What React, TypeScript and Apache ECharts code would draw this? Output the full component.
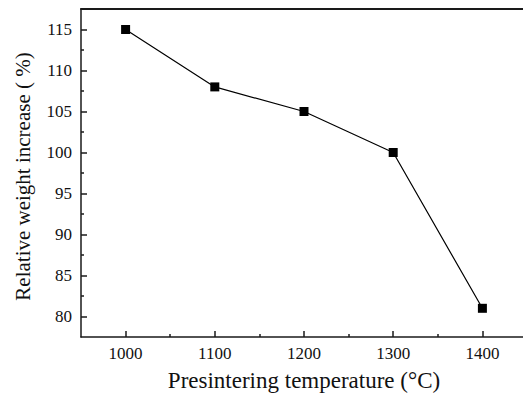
import React, { useEffect, useRef } from "react";
import * as echarts from "echarts";

const temperatures = [1000, 1100, 1200, 1300, 1400];
const weightIncrease = [115, 108, 105, 100, 81];
const xMajorTicks = [1000, 1100, 1200, 1300, 1400];
const xMinorTicks = [1050, 1150, 1250, 1350];
const yMajorTicks = [80, 85, 90, 95, 100, 105, 110, 115];
const yMinorTicks = [82.5, 87.5, 92.5, 97.5, 102.5, 107.5, 112.5];

const FONT = "Liberation Serif";
const AX = "#1a1a1a";

export default function App() {
  const ref = useRef<HTMLDivElement>(null);
  useEffect(() => {
    const chart = echarts.init(ref.current!, null, { renderer: "svg" });
    const xBase = { type: "value", min: 950, max: 1450, interval: 50 };
    const yBase = { type: "value", min: 77.5, max: 117.5, interval: 2.5 };
    chart.setOption({
      animation: false,
      backgroundColor: "#ffffff",
      textStyle: { fontFamily: FONT },
      grid: { left: 81, top: 9, right: -4, bottom: 62, outerBoundsMode: "none", containLabel: false },
      xAxis: [
        {
          ...xBase,
          position: "bottom",
          name: "Presintering temperature (°C)",
          nameLocation: "middle",
          nameGap: 32,
          nameTextStyle: { fontFamily: FONT, fontSize: 23, color: "#111" },
          axisLine: { show: true, lineStyle: { color: AX, width: 1.5 } },
          axisTick: { show: true, inside: true, length: 6, customValues: xMajorTicks, lineStyle: { color: AX, width: 1.5 } },
          axisLabel: {
            fontFamily: FONT,
            fontSize: 17,
            color: "#111",
            margin: 8,
            formatter: (v: number) => (xMajorTicks.includes(v) ? String(v) : ""),
          },
          splitLine: { show: false },
        },
        {
          ...xBase,
          position: "bottom",
          axisLine: { show: false },
          axisTick: { show: true, inside: true, length: 3, customValues: xMinorTicks, lineStyle: { color: AX, width: 1.5 } },
          axisLabel: { show: false },
          splitLine: { show: false },
        },
        {
          ...xBase,
          position: "top",
          axisLine: { show: true, lineStyle: { color: AX, width: 2 } },
          axisTick: { show: false },
          axisLabel: { show: false },
          splitLine: { show: false },
        },
      ],
      yAxis: [
        {
          ...yBase,
          position: "left",
          name: "Relative weight increase ( %)",
          nameLocation: "middle",
          nameGap: 48,
          nameTextStyle: { fontFamily: FONT, fontSize: 21, color: "#111", padding: [0, 7, 0, 0] },
          axisLine: { show: true, lineStyle: { color: AX, width: 1.5 } },
          axisTick: { show: true, inside: true, length: 6, customValues: yMajorTicks, lineStyle: { color: AX, width: 1.5 } },
          axisLabel: {
            fontFamily: FONT,
            fontSize: 17,
            color: "#111",
            margin: 9,
            formatter: (v: number) => (yMajorTicks.includes(v) ? String(v) : ""),
          },
          splitLine: { show: false },
        },
        {
          ...yBase,
          position: "left",
          axisLine: { show: false },
          axisTick: { show: true, inside: true, length: 3, customValues: yMinorTicks, lineStyle: { color: AX, width: 1.5 } },
          axisLabel: { show: false },
          splitLine: { show: false },
        },
      ],
      series: [
        {
          type: "line",
          xAxisIndex: 0,
          yAxisIndex: 0,
          data: temperatures.map((t, i) => [t, weightIncrease[i]]),
          symbol: "rect",
          symbolSize: 9,
          itemStyle: { color: "#000" },
          lineStyle: { color: "#000", width: 1.2 },
        },
      ],
    });
    return () => chart.dispose();
  }, []);
  return <div ref={ref} style={{ width: 523, height: 399, position: "absolute", left: 0, top: 0 }} />;
}
